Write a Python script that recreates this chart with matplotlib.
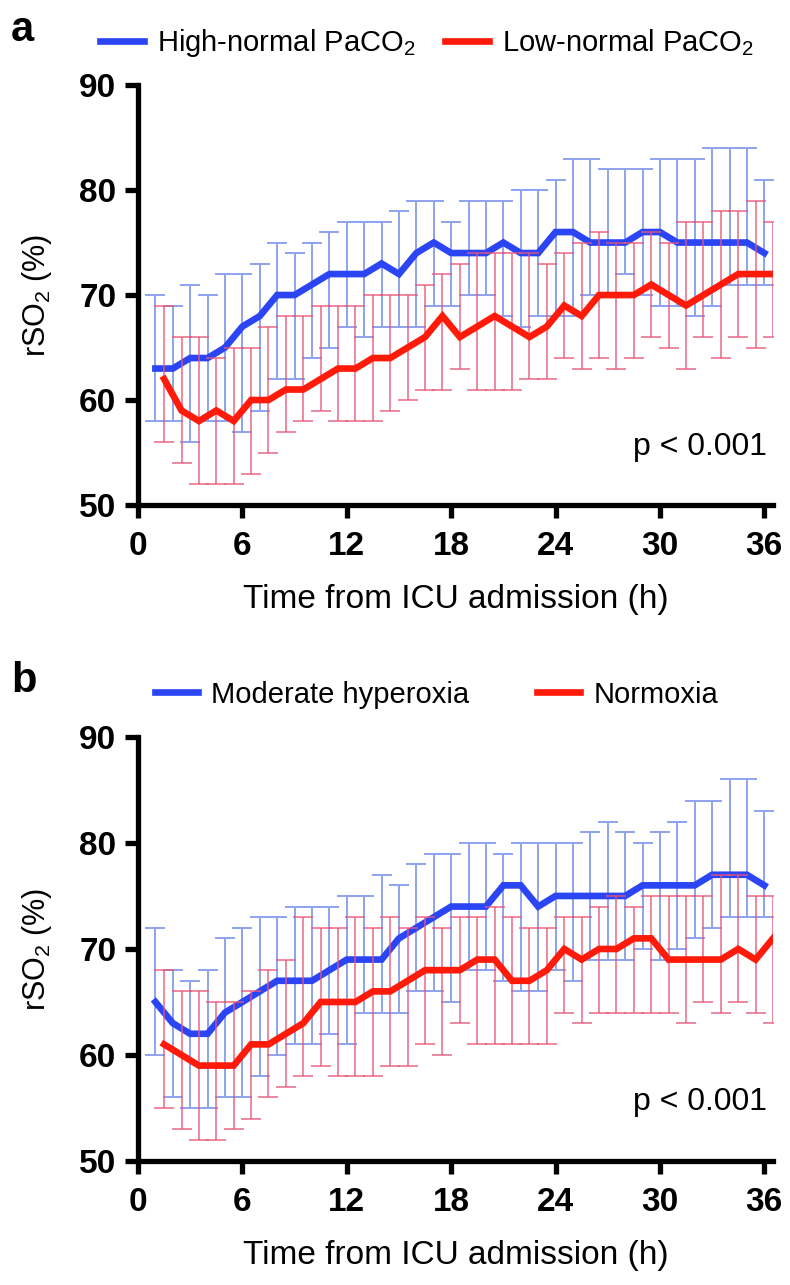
import numpy as np
import matplotlib
matplotlib.use("Agg")
import matplotlib.pyplot as plt

plt.rcParams['font.family'] = ['Liberation Sans', 'DejaVu Sans']
plt.rcParams['mathtext.fontset'] = 'custom'
plt.rcParams['mathtext.rm'] = 'Liberation Sans'

# hours since ICU admission (blue at whole hours, red drawn half an hour later)
hours = list(range(1, 37))

# panel a: PaCO2 groups (median, upper, lower)
a_blue_med = [63, 63, 64, 64, 65, 67, 68, 70, 70, 71, 72, 72, 72, 73, 72, 74, 75, 74,
              74, 74, 75, 74, 74, 76, 76, 75, 75, 75, 76, 76, 75, 75, 75, 75, 75, 74]
a_blue_hi = [70, 69, 71, 70, 72, 72, 73, 75, 74, 75, 76, 77, 77, 77, 78, 79, 79, 77,
             79, 79, 79, 80, 80, 81, 83, 83, 82, 82, 82, 83, 83, 83, 84, 84, 84, 81]
a_blue_lo = [58, 58, 56, 58, 58, 57, 59, 62, 62, 64, 65, 67, 66, 67, 67, 67, 69, 69,
             70, 70, 68, 67, 68, 68, 68, 70, 70, 72, 70, 69, 69, 68, 69, 71, 71, 71]
a_red_med = [62, 59, 58, 59, 58, 60, 60, 61, 61, 62, 63, 63, 64, 64, 65, 66, 68,
             66, 67, 68, 67, 66, 67, 69, 68, 70, 70, 70, 71, 70, 69, 70, 71, 72, 72, 72]
a_red_hi = [69, 66, 66, 64, 65, 65, 67, 68, 68, 69, 69, 69, 70, 70, 70, 71, 72,
            73, 74, 74, 74, 74, 73, 74, 75, 76, 75, 75, 76, 75, 77, 77, 78, 78, 79, 77]
a_red_lo = [56, 54, 52, 52, 52, 53, 55, 57, 58, 59, 58, 58, 58, 59, 60, 61, 61,
            63, 61, 61, 61, 62, 62, 64, 63, 64, 63, 64, 66, 65, 63, 66, 64, 66, 65, 66]

# panel b: PaO2 groups
b_blue_med = [65, 63, 62, 62, 64, 65, 66, 67, 67, 67, 68, 69, 69, 69, 71, 72, 73, 74,
              74, 74, 76, 76, 74, 75, 75, 75, 75, 75, 76, 76, 76, 76, 77, 77, 77, 76]
b_blue_hi = [72, 68, 67, 68, 71, 72, 73, 73, 74, 74, 74, 75, 75, 77, 76, 78, 79, 79,
             80, 80, 79, 80, 80, 80, 80, 81, 82, 81, 80, 81, 82, 84, 84, 86, 86, 83]
b_blue_lo = [60, 56, 55, 55, 56, 56, 58, 60, 61, 61, 62, 61, 64, 64, 64, 66, 66, 65,
             68, 68, 67, 66, 66, 68, 67, 69, 69, 69, 70, 69, 70, 71, 72, 73, 73, 73]
b_red_med = [61, 60, 59, 59, 59, 61, 61, 62, 63, 65, 65, 65, 66, 66, 67, 68, 68,
             68, 69, 69, 67, 67, 68, 70, 69, 70, 70, 71, 71, 69, 69, 69, 69, 70, 69, 71]
b_red_hi = [68, 66, 66, 65, 65, 66, 68, 69, 73, 72, 72, 73, 72, 73, 72, 73, 72,
            73, 73, 74, 73, 72, 72, 73, 73, 74, 75, 74, 75, 75, 75, 75, 77, 77, 75, 75]
b_red_lo = [55, 53, 52, 52, 53, 54, 56, 57, 58, 59, 58, 58, 58, 59, 59, 61, 60,
            63, 61, 61, 61, 61, 61, 64, 63, 64, 64, 64, 64, 64, 63, 65, 64, 65, 64, 63]

x_ticks = [0, 6, 12, 18, 24, 30, 36]
y_ticks = [50, 60, 70, 80, 90]

BLUE = '#2b45f5'
RED = '#ff1a0a'
BLUE_ERR = '#8ea2ee'
RED_ERR = '#e8557a'
RED_SHIFT = 0.5


def draw_panel(ax, blue, red, labels, letter, legend_x, col_gap):
    x_b = np.array(hours, dtype=float)
    x_r = x_b + RED_SHIFT
    b_med, b_hi, b_lo = (np.array(v) for v in blue)
    r_med, r_hi, r_lo = (np.array(v) for v in red)

    ax.errorbar(x_b, b_med, yerr=[b_med - b_lo, b_hi - b_med], fmt='none',
                ecolor=BLUE_ERR, elinewidth=1.4, capsize=7, capthick=1.4, zorder=1)
    ax.plot(x_b, b_med, color=BLUE, lw=4.8, solid_joinstyle='miter', zorder=2,
            label=labels[0])
    ax.errorbar(x_r, r_med, yerr=[r_med - r_lo, r_hi - r_med], fmt='none',
                ecolor=RED_ERR, alpha=0.7, elinewidth=1.4, capsize=7, capthick=1.4,
                zorder=3)
    ax.plot(x_r, r_med, color=RED, lw=4.8, solid_joinstyle='miter', zorder=4,
            label=labels[1])

    ax.set_xlim(0, 36.5)
    ax.set_ylim(50, 90)
    ax.set_xticks(x_ticks)
    ax.set_yticks(y_ticks)
    for side in ('top', 'right'):
        ax.spines[side].set_visible(False)
    for side in ('left', 'bottom'):
        ax.spines[side].set_linewidth(3.8)
    ax.tick_params(direction='out', length=9.5, width=3.8, labelsize=24)
    ax.tick_params(axis='x', pad=9)
    ax.tick_params(axis='y', pad=6)
    for lab in ax.get_xticklabels() + ax.get_yticklabels():
        lab.set_fontweight('bold')
    ax.set_xlabel('Time from ICU admission (h)', fontsize=24, labelpad=16)
    ax.set_ylabel(r'rSO$_2$ (%)', fontsize=22, labelpad=18)
    ax.text(0.99, 0.138, 'p < 0.001', transform=ax.transAxes, ha='right',
            va='center', fontsize=23)
    ax.legend(loc='center', bbox_to_anchor=(legend_x, 1.10), ncol=2, frameon=False,
              fontsize=21, handlelength=1.5, handletextpad=0.45,
              columnspacing=col_gap)
    ax.text(-0.20, 1.131, letter, transform=ax.transAxes, fontsize=30,
            fontweight='bold', va='center')


fig = plt.figure(figsize=(7.9, 12.85), dpi=100)
ax_a = fig.add_axes([0.1747, 0.607, 0.8038, 0.3268])
ax_b = fig.add_axes([0.1747, 0.0965, 0.8038, 0.33])

draw_panel(ax_a, (a_blue_med, a_blue_hi, a_blue_lo), (a_red_med, a_red_hi, a_red_lo),
           (r'High-normal PaCO$_2$', r'Low-normal PaCO$_2$'), 'a', 0.455, 1.0)
draw_panel(ax_b, (b_blue_med, b_blue_hi, b_blue_lo), (b_red_med, b_red_hi, b_red_lo),
           ('Moderate hyperoxia', 'Normoxia'), 'b', 0.47, 2.3)

fig.savefig('out.png', dpi=100)
